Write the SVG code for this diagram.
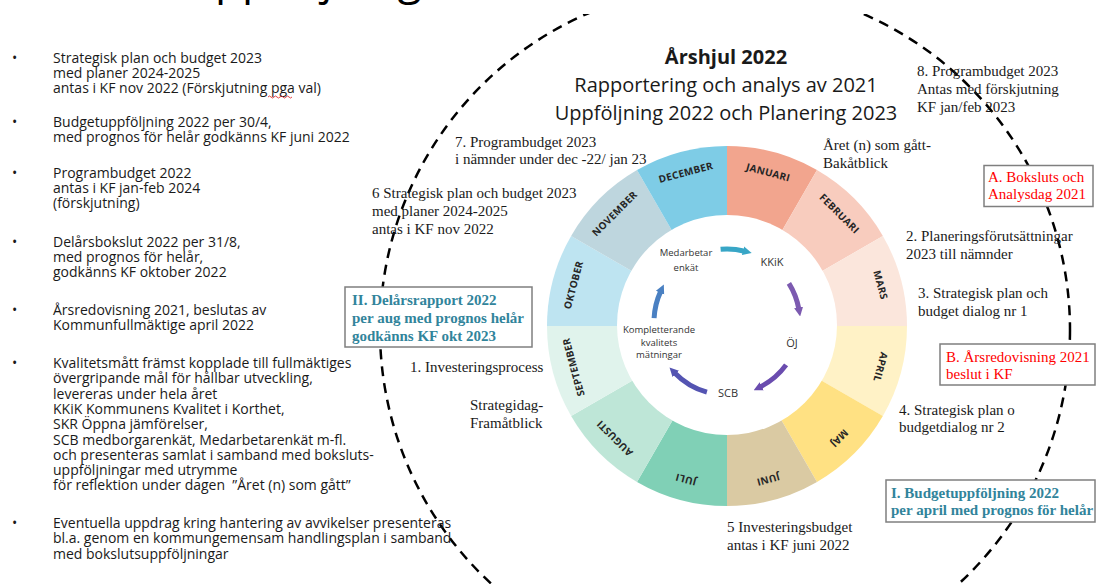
<svg xmlns="http://www.w3.org/2000/svg" width="1096" height="584" viewBox="0 0 1096 584">
<style>
.serif{font-family:"Liberation Serif","Times New Roman",serif;font-size:15px;fill:#1a1a1a}
.list{font-family:"Open Sans",sans-serif;font-size:14px;fill:#1a1a1a}
.ttl{font-family:"Open Sans",sans-serif;font-size:20px;fill:#1a1a1a;text-anchor:middle}
.month{font-family:"Open Sans",sans-serif;font-weight:700;font-size:10px;fill:#262626;text-anchor:middle;letter-spacing:0.3px}
.inner{font-family:"Open Sans",sans-serif;font-size:9.5px;fill:#333;text-anchor:middle}
.inbig{font-family:"Open Sans",sans-serif;font-size:11px;fill:#333;text-anchor:middle}
.box{fill:#fff;stroke:#7f7f7f;stroke-width:1.5}
.red{fill:#ff0000}
.blue{fill:#31849B;font-weight:bold}
.arr{fill:none;stroke-width:5}
</style>
<defs>
<marker id="mTeal" viewBox="0 0 10 10" refX="2" refY="5" markerWidth="9" markerHeight="11" markerUnits="userSpaceOnUse" orient="auto"><path d="M0,0 L10,5 L0,10 z" fill="#38A6C6"/></marker>
<marker id="mP1" viewBox="0 0 10 10" refX="2" refY="5" markerWidth="9" markerHeight="11" markerUnits="userSpaceOnUse" orient="auto"><path d="M0,0 L10,5 L0,10 z" fill="#7C5AB0"/></marker>
<marker id="mP2" viewBox="0 0 10 10" refX="2" refY="5" markerWidth="9" markerHeight="11" markerUnits="userSpaceOnUse" orient="auto"><path d="M0,0 L10,5 L0,10 z" fill="#6A4CAF"/></marker>
<marker id="mP3" viewBox="0 0 10 10" refX="2" refY="5" markerWidth="9" markerHeight="11" markerUnits="userSpaceOnUse" orient="auto"><path d="M0,0 L10,5 L0,10 z" fill="#5454B2"/></marker>
<marker id="mB" viewBox="0 0 10 10" refX="2" refY="5" markerWidth="9" markerHeight="11" markerUnits="userSpaceOnUse" orient="auto"><path d="M0,0 L10,5 L0,10 z" fill="#4A80C2"/></marker>
</defs>
<rect width="1096" height="584" fill="#fff"/>

<!-- big dashed cycle -->
<g id="outer-cycle">
<circle cx="725" cy="330" r="345" fill="none" stroke="#000" stroke-width="2.5" stroke-dasharray="10 7"/>
</g>
<rect x="0" y="0" width="1096" height="14" fill="#fff"/>
<text x="183" y="-6.5" font-family="Open Sans, sans-serif" font-size="44" fill="#000">Uppföljning</text>

<!-- left list -->
<g id="left-list" class="list">
<text x="12" y="63">•</text>
<text x="53" y="63">Strategisk plan och budget 2023<tspan x="53" dy="15">med planer 2024-2025</tspan><tspan x="53" dy="15">antas i KF nov 2022 (Förskjutning pga val)</tspan></text>
<path d="M268,97 q1.5,-2 3,0 t3,0 t3,0 t3,0 t3,0 t3,0 t3,0 t3,0" fill="none" stroke="#e03030" stroke-width="0.9"/>
<text x="12" y="127">•</text>
<text x="53" y="127">Budgetuppföljning 2022 per 30/4,<tspan x="53" dy="15">med prognos för helår godkänns KF juni 2022</tspan></text>
<text x="12" y="178">•</text>
<text x="53" y="178">Programbudget 2022<tspan x="53" dy="15">antas i KF jan-feb 2024</tspan><tspan x="53" dy="15">(förskjutning)</tspan></text>
<text x="12" y="247">•</text>
<text x="53" y="247">Delårsbokslut 2022 per 31/8,<tspan x="53" dy="15">med prognos för helår,</tspan><tspan x="53" dy="15">godkänns KF oktober 2022</tspan></text>
<text x="12" y="315">•</text>
<text x="53" y="315">Årsredovisning 2021, beslutas av<tspan x="53" dy="15.3">Kommunfullmäktige april 2022</tspan></text>
<text x="12" y="368">•</text>
<text x="53" y="368">Kvalitetsmått främst kopplade till fullmäktiges<tspan x="53" dy="15.3">övergripande mål för hållbar utveckling,</tspan><tspan x="53" dy="15.3">levereras under hela året</tspan><tspan x="53" dy="15.3">KKiK Kommunens Kvalitet i Korthet,</tspan><tspan x="53" dy="15.3">SKR Öppna jämförelser,</tspan><tspan x="53" dy="15.3">SCB medborgarenkät, Medarbetarenkät m-fl.</tspan><tspan x="53" dy="15.3">och presenteras samlat i samband med boksluts-</tspan><tspan x="53" dy="15.3">uppföljningar med utrymme</tspan><tspan x="53" dy="15.3">för reflektion under dagen&#160; ”Året (n) som gått”</tspan></text>
<text x="12" y="528">•</text>
<text x="53" y="528">Eventuella uppdrag kring hantering av avvikelser presenteras<tspan x="53" dy="15.3">bl.a. genom en kommungemensam handlingsplan i samband</tspan><tspan x="53" dy="15.3">med bokslutsuppföljningar</tspan></text>
</g>

<!-- title -->
<g id="title">
<text class="ttl" x="726" y="64" font-weight="700">Årshjul 2022</text>
<text class="ttl" x="726" y="92">Rapportering och analys av 2021</text>
<text class="ttl" x="726" y="120">Uppföljning 2022 och Planering 2023</text>
</g>

<!-- wheel months -->
<g id="m-jan"><path d="M727,326 L727,146 A180,180 0 0 1 817,170.12 Z" fill="#F2A58E"/><text class="month" transform="translate(768.2,172.4) rotate(15)" dy="0.36em">JANUARI</text></g>
<g id="m-feb"><path d="M727,326 L817,170.12 A180,180 0 0 1 882.88,236 Z" fill="#F8CCBE"/><text class="month" transform="translate(839.4,213.6) rotate(45)" dy="0.36em">FEBRUARI</text></g>
<g id="m-mar"><path d="M727,326 L882.88,236 A180,180 0 0 1 907,326 Z" fill="#FBE6DC"/><text class="month" transform="translate(880.6,284.9) rotate(75)" dy="0.36em">MARS</text></g>
<g id="m-apr"><path d="M727,326 L907,326 A180,180 0 0 1 882.88,416 Z" fill="#FFF2C6"/><text class="month" transform="translate(880.6,367.1) rotate(105)" dy="0.36em">APRIL</text></g>
<g id="m-maj"><path d="M727,326 L882.88,416 A180,180 0 0 1 817,481.88 Z" fill="#FFE183"/><text class="month" transform="translate(839.4,438.4) rotate(135)" dy="0.36em">MAJ</text></g>
<g id="m-jun"><path d="M727,326 L817,481.88 A180,180 0 0 1 727,506 Z" fill="#DACAA3"/><text class="month" transform="translate(768.2,479.6) rotate(165)" dy="0.36em">JUNI</text></g>
<g id="m-jul"><path d="M727,326 L727,506 A180,180 0 0 1 637,481.88 Z" fill="#80D0B6"/><text class="month" transform="translate(685.8,479.6) rotate(195)" dy="0.36em">JULI</text></g>
<g id="m-aug"><path d="M727,326 L637,481.88 A180,180 0 0 1 571.12,416 Z" fill="#BEE6D7"/><text class="month" transform="translate(614.6,438.4) rotate(225)" dy="0.36em">AUGUSTI</text></g>
<g id="m-sep"><path d="M727,326 L571.12,416 A180,180 0 0 1 547,326 Z" fill="#E0F3EC"/><text class="month" transform="translate(573.4,367.1) rotate(255)" dy="0.36em">SEPTEMBER</text></g>
<g id="m-okt"><path d="M727,326 L547,326 A180,180 0 0 1 571.12,236 Z" fill="#BEE4F1"/><text class="month" transform="translate(573.4,284.9) rotate(285)" dy="0.36em">OKTOBER</text></g>
<g id="m-nov"><path d="M727,326 L571.12,236 A180,180 0 0 1 637,170.12 Z" fill="#BED6DE"/><text class="month" transform="translate(614.6,213.6) rotate(315)" dy="0.36em">NOVEMBER</text></g>
<g id="m-dec"><path d="M727,326 L637,170.12 A180,180 0 0 1 727,146 Z" fill="#7ECCE6"/><text class="month" transform="translate(685.8,172.4) rotate(345)" dy="0.36em">DECEMBER</text></g>
<circle cx="727" cy="325" r="110" fill="#fff"/>

<!-- inner cycle nodes -->
<g id="n-medarbetar"><text class="inner" x="686" y="256">Medarbetar</text><text class="inner" x="686" y="271">enkät</text></g>
<g id="n-kkik"><text class="inbig" x="772" y="266">KKiK</text></g>
<g id="n-oj"><text class="inbig" x="792" y="347">ÖJ</text></g>
<g id="n-scb"><text class="inbig" x="728" y="397">SCB</text></g>
<g id="n-kompl"><text class="inner" x="659" y="333">Kompletterande</text><text class="inner" x="659" y="346">kvalitets</text><text class="inner" x="659" y="358">mätningar</text></g>

<g id="connectors">
<path class="arr" stroke="#38A6C6" d="M720.6,249.3 A73,73 0 0 1 744.7,251.2" marker-end="url(#mTeal)"/>
<path class="arr" stroke="#7C5AB0" d="M788.9,283.3 A73,73 0 0 1 798.9,309.3" marker-end="url(#mP1)"/>
<path class="arr" stroke="#6A4CAF" d="M786.1,364.9 A73,73 0 0 1 760.1,387.0" marker-end="url(#mP2)"/>
<path class="arr" stroke="#5454B2" d="M706.9,392.2 A73,73 0 0 1 674.5,372.7" marker-end="url(#mP3)"/>
<path class="arr" stroke="#4A80C2" d="M654.1,318.2 A73,73 0 0 1 660.8,291.1" marker-end="url(#mB)"/>
</g>

<!-- annotations -->
<g id="t7" class="serif"><text x="455" y="147">7. Programbudget 2023</text><text x="455" y="164">i nämnder under dec -22/ jan 23</text></g>
<g id="t6" class="serif"><text x="372" y="198">6 Strategisk plan och budget 2023</text><text x="372" y="216">med planer 2024-2025</text><text x="372" y="234">antas i KF nov 2022</text></g>
<g id="t-aret" class="serif"><text x="823" y="150">Året (n) som gått-</text><text x="823" y="168">Bakåtblick</text></g>
<g id="t8" class="serif"><text x="917" y="76">8. Programbudget 2023</text><text x="917" y="94">Antas med förskjutning</text><text x="917" y="112">KF jan/feb 2023</text></g>
<g id="t2" class="serif"><text x="906" y="241">2. Planeringsförutsättningar</text><text x="906" y="259">2023 till nämnder</text></g>
<g id="t3" class="serif"><text x="918" y="298">3. Strategisk plan och</text><text x="918" y="316">budget dialog nr 1</text></g>
<g id="t4" class="serif"><text x="899" y="415">4. Strategisk plan o</text><text x="899" y="432">budgetdialog nr 2</text></g>
<g id="t5" class="serif"><text x="727" y="532">5 Investeringsbudget</text><text x="727" y="550">antas i KF juni 2022</text></g>
<g id="t1" class="serif"><text x="410" y="372">1. Investeringsprocess</text></g>
<g id="t-strategidag" class="serif"><text x="470" y="410">Strategidag-</text><text x="470" y="428">Framåtblick</text></g>

<g id="boxA"><rect class="box" x="984" y="165.5" width="109" height="41"/><text class="serif red" x="988" y="182">A. Boksluts och</text><text class="serif red" x="988" y="199">Analysdag 2021</text></g>
<g id="boxB"><rect class="box" x="940" y="344" width="155" height="41"/><text class="serif red" x="946" y="362">B. Årsredovisning 2021</text><text class="serif red" x="946" y="379">beslut i KF</text></g>
<g id="boxI"><rect class="box" x="886" y="480" width="209" height="42"/><text class="serif blue" x="891" y="498">I. Budgetuppföljning 2022</text><text class="serif blue" x="891" y="515">per april med prognos för helår</text></g>
<g id="boxII"><rect class="box" x="345" y="287" width="187" height="60"/><text class="serif blue" x="352" y="305">II. Delårsrapport 2022</text><text class="serif blue" x="352" y="323">per aug med prognos helår</text><text class="serif blue" x="352" y="341">godkänns KF okt 2023</text></g>
</svg>
